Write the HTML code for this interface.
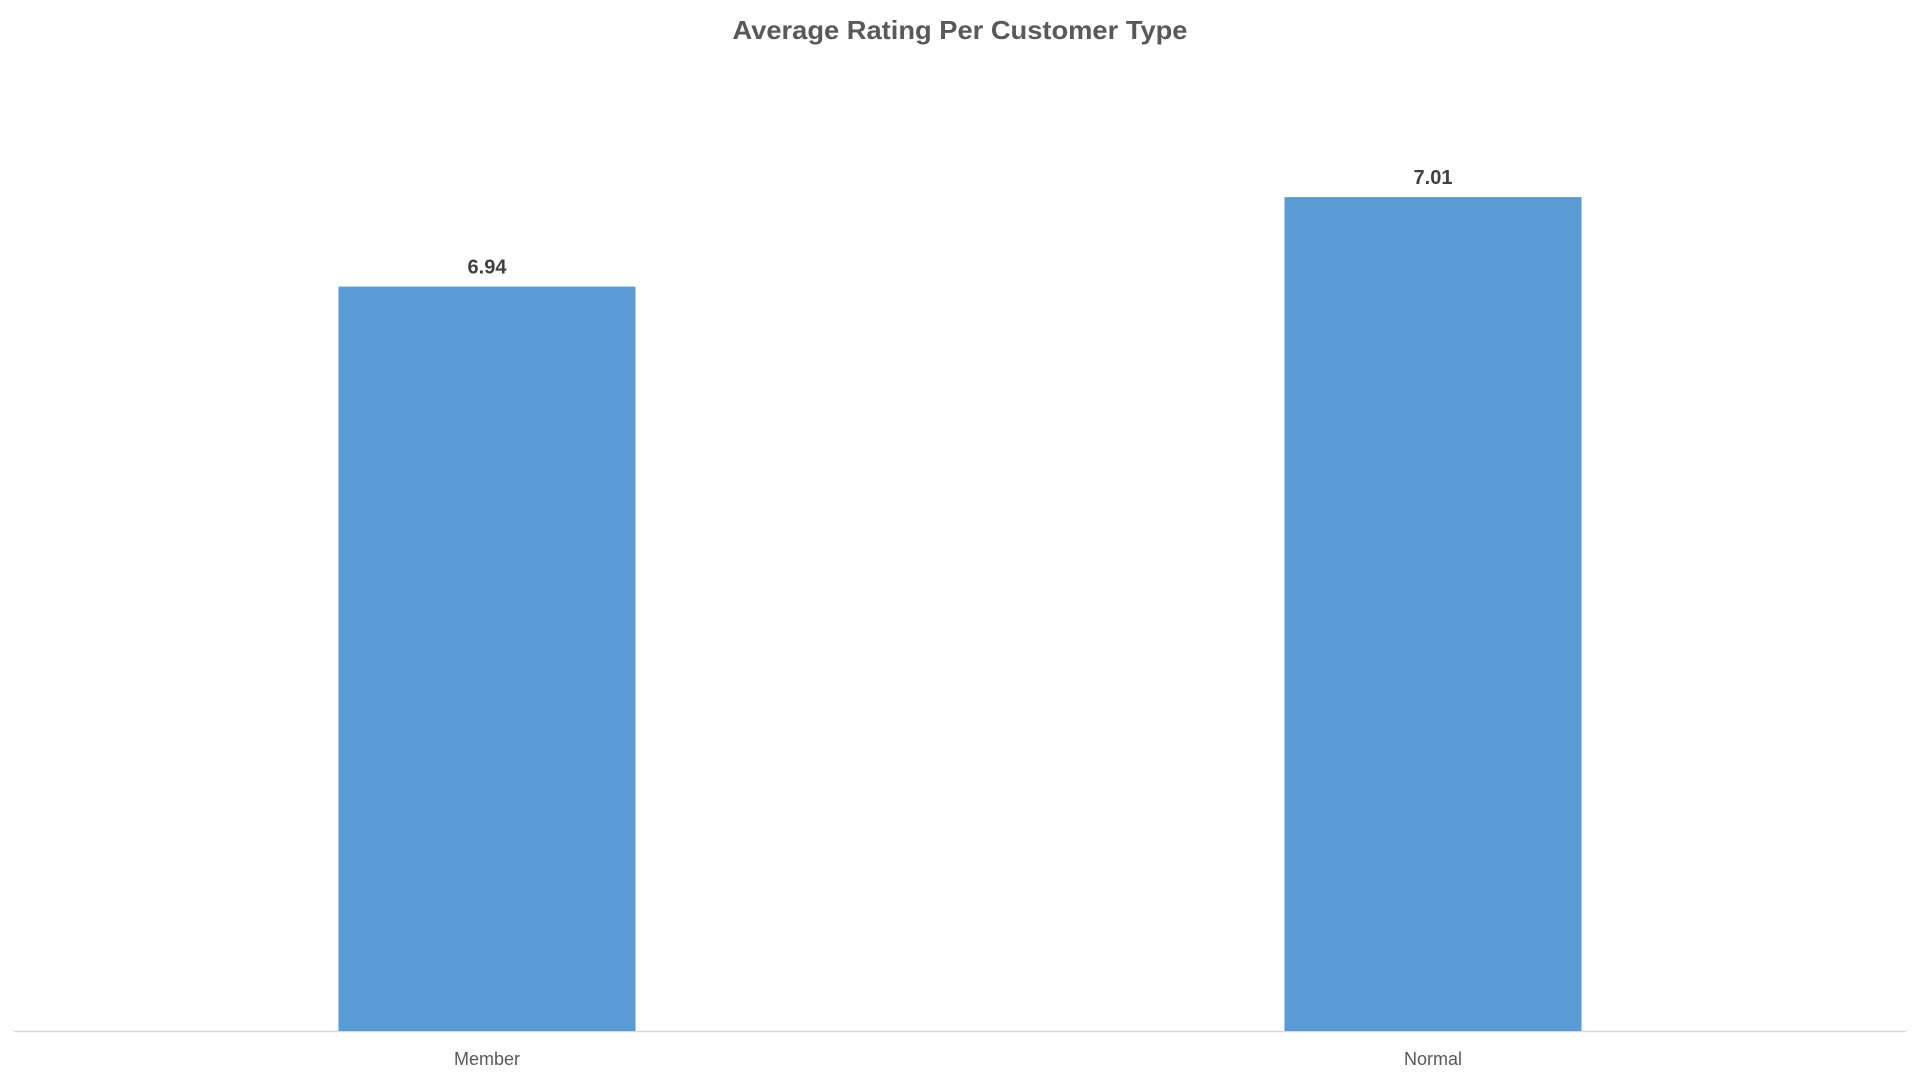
<!DOCTYPE html>
<html><head><meta charset="utf-8"><style>
body{margin:0;width:1920px;height:1080px;background:#fff;overflow:hidden;font-family:"Liberation Sans",sans-serif}
svg{display:block}
</style></head><body>
<svg id="chart" width="1920" height="1080" xmlns="http://www.w3.org/2000/svg">
<text x="960" y="39" text-anchor="middle" font-size="26" font-weight="bold" fill="#595959" textLength="455" lengthAdjust="spacingAndGlyphs">Average Rating Per Customer Type</text>
<line x1="14" y1="1031.5" x2="1906" y2="1031.5" stroke="#d9d9d9" stroke-width="1.5"/>
<g id="bars"></g>
</svg>
<script>
const categories = ["Member", "Normal"];
const values = [6.94, 7.01];
const labels = ["6.94", "7.01"];
const axisMin = 6.358, baseY = 1031, pxPerUnit = 1279;
const plotLeft = 14, plotWidth = 1892, barW = 297;
function y(v){ return baseY - (v - axisMin) * pxPerUnit; }
function xc(i){ return plotLeft + plotWidth * (i + 0.5) / categories.length; }
const g = document.getElementById('bars');
const NS = "http://www.w3.org/2000/svg";
categories.forEach((c, i) => {
  const r = document.createElementNS(NS, 'rect');
  
  
  r.setAttribute('x', xc(i) - barW / 2);
  r.setAttribute('y', y(values[i]));
  r.setAttribute('width', barW);
  r.setAttribute('height', baseY - y(values[i]));
  r.setAttribute('fill', '#5b9bd5');
  g.appendChild(r);
  const t = document.createElementNS(NS, 'text');
  
  
  t.setAttribute('x', xc(i));
  t.setAttribute('y', y(values[i]) - 13);
  t.setAttribute('text-anchor', 'middle');
  t.setAttribute('font-size', '20');
  t.setAttribute('font-weight', 'bold');
  t.setAttribute('fill', '#404040');
  t.textContent = labels[i];
  g.appendChild(t);
  const l = document.createElementNS(NS, 'text');
  
  
  l.setAttribute('x', xc(i));
  l.setAttribute('y', 1065);
  l.setAttribute('text-anchor', 'middle');
  l.setAttribute('font-size', '18');
  l.setAttribute('fill', '#595959');
  l.textContent = c;
  g.appendChild(l);
});
</script>
</body></html>
